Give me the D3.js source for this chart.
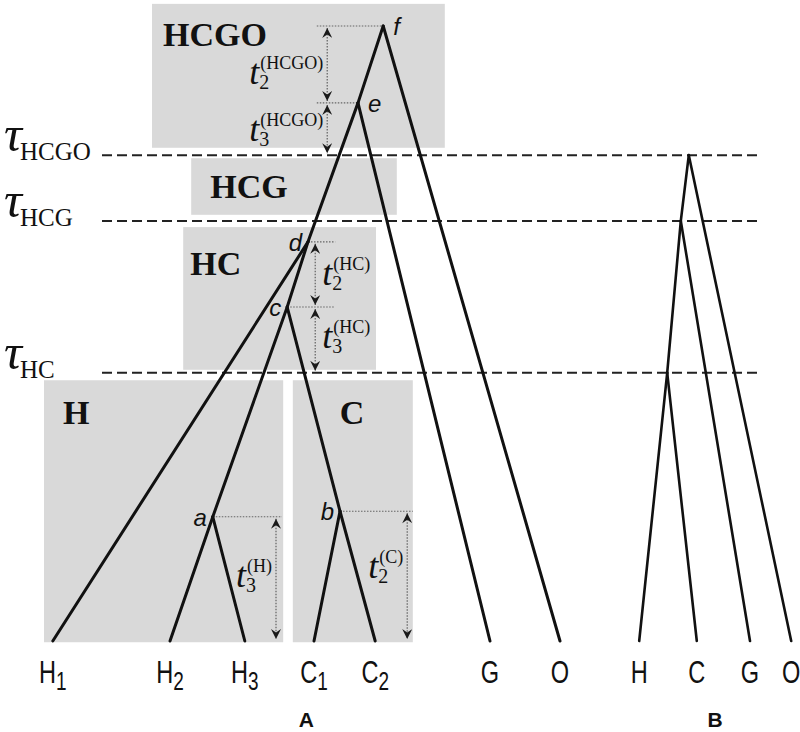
<!DOCTYPE html>
<html>
<head>
<meta charset="utf-8">
<script src="https://cdn.jsdelivr.net/npm/d3@7"></script>
<style>
  body { margin: 0; background: #fff; }
  text { fill: #111; }
</style>
</head>
<body>
<svg id="chart" width="800" height="732"></svg>
<script>
// node ages (leaves = 0, oldest node f = 10) and horizontal position (0-100)
const nodesA = [
  { id: "f",  parent: null, t: 10,   pos: 47.9,  side: "right" },
  { id: "e",  parent: "f",  t: 8.75, pos: 44.75, side: "right" },
  { id: "d",  parent: "e",  t: 6.49, pos: 38.5,  side: "left" },
  { id: "c",  parent: "d",  t: 5.43, pos: 35.9,  side: "left" },
  { id: "a",  parent: "c",  t: 2.02, pos: 26.6,  side: "left" },
  { id: "b",  parent: "c",  t: 2.11, pos: 42.5,  side: "left" }
];
const leavesA = [
  { id: "H1", parent: "d", pos: 6.6,   name: "H", sub: "1" },
  { id: "H2", parent: "a", pos: 21.25, name: "H", sub: "2" },
  { id: "H3", parent: "a", pos: 30.6,  name: "H", sub: "3" },
  { id: "C1", parent: "b", pos: 39.25, name: "C", sub: "1" },
  { id: "C2", parent: "b", pos: 46.9,  name: "C", sub: "2" },
  { id: "G",  parent: "e", pos: 61.25, name: "G", sub: "" },
  { id: "O",  parent: "f", pos: 70,    name: "O", sub: "" }
];
// species tree (panel B)
const nodesB = [
  { id: "HCGO", parent: null,  t: 7.90, pos: 86.1 },
  { id: "HCG",  parent: "HCGO", t: 6.83, pos: 85.1 },
  { id: "HC",   parent: "HCG", t: 4.36, pos: 83.4 }
];
const leavesB = [
  { id: "H", parent: "HC",   pos: 79.9 },
  { id: "C", parent: "HC",   pos: 87.1 },
  { id: "G", parent: "HCG",  pos: 93.75 },
  { id: "O", parent: "HCGO", pos: 98.9 }
];
const taus = [
  { name: "HCGO", t: 7.90 },
  { name: "HCG",  t: 6.83 },
  { name: "HC",   t: 4.36 }
];
// coalescent intervals: from node to node / tau / present
const intervals = [
  { from: "f", to: "e",       sub: "2", sup: "(HCGO)" },
  { from: "e", toTau: "HCGO", sub: "3", sup: "(HCGO)" },
  { from: "d", to: "c",       sub: "2", sup: "(HC)" },
  { from: "c", toTau: "HC",   sub: "3", sup: "(HC)" },
  { from: "a", toT: 0,        sub: "3", sup: "(H)" },
  { from: "b", toT: 0,        sub: "2", sup: "(C)" }
];
// layout of the interval arrows: arrow x, label side, label shift
const intervalLayout = [
  { ax: 40.9, side: "left",  dy: 20 },
  { ax: 40.9, side: "left",  dy: 12 },
  { ax: 39.4, side: "right", dy: 11 },
  { ax: 39.4, side: "right", dy: 8 },
  { ax: 34.5, side: "left",  dy: 8 },
  { ax: 50.9, side: "left",  dy: 2 }
];
// guide lines at nodes: extend from node to position gx
const guides = [
  { node: "f", gx: 39.6 }, { node: "e", gx: 39.6 },
  { node: "d", gx: 41.9 }, { node: "c", gx: 41.9 },
  { node: "a", gx: 35.25 }, { node: "b", gx: 51.6 }
];
// population boxes (pos / age units), label offset in px
const boxes = [
  { label: "HCGO", x0: 19,   x1: 55.6, t0: 10.36, t1: 8.02, dx: 11, dy: 42 },
  { label: "HCG",  x0: 23.9, x1: 49.6, t0: 7.85,  t1: 6.93, dx: 19, dy: 40 },
  { label: "HC",   x0: 22.9, x1: 47,   t0: 6.73,  t1: 4.41, dx: 7,  dy: 48 },
  { label: "H",    x0: 5.5,  x1: 35.4, t0: 4.24,  t1: -0.02, dx: 19, dy: 44 },
  { label: "C",    x0: 36.6, x1: 51.6, t0: 4.24,  t1: -0.02, dx: 47, dy: 44 }
];

const svg = d3.select("#chart");
const x = d3.scaleLinear().domain([0, 100]).range([0, 800]);
const y = d3.scaleLinear().domain([0, 10]).range([641, 26]);

const serif = "'Liberation Serif', 'Times New Roman', serif";
const sans = "'Liberation Sans', Arial, sans-serif";

// arrow head
svg.append("defs").append("marker")
  .attr("id", "arr")
  .attr("viewBox", "0 0 10 10")
  .attr("refX", 10).attr("refY", 5)
  .attr("markerWidth", 11).attr("markerHeight", 10)
  .attr("markerUnits", "userSpaceOnUse")
  .attr("orient", "auto-start-reverse")
  .append("path")
  .attr("d", "M0,0L10,5L0,10L3.5,5Z")
  .attr("fill", "#1a1a1a");

// boxes
const gBox = svg.append("g");
gBox.selectAll("rect").data(boxes).join("rect")
  .attr("x", d => x(d.x0)).attr("y", d => y(d.t0))
  .attr("width", d => x(d.x1) - x(d.x0))
  .attr("height", d => y(d.t1) - y(d.t0))
  .attr("fill", "#d9d9d9");
gBox.selectAll("text").data(boxes).join("text")
  .attr("x", d => x(d.x0) + d.dx).attr("y", d => y(d.t0) + d.dy)
  .attr("font-family", serif).attr("font-weight", "bold")
  .attr("font-size", 34).attr("fill", "#1a1a1a")
  .text(d => d.label);

// tau dashed lines
const gTau = svg.append("g");
gTau.selectAll("line").data(taus).join("line")
  .attr("x1", x(12.75)).attr("x2", x(95.25))
  .attr("y1", d => y(d.t)).attr("y2", d => y(d.t))
  .attr("stroke", "#222").attr("stroke-width", 2)
  .attr("stroke-dasharray", "10,5");
const tauLab = gTau.selectAll("text").data(taus).join("text")
  .attr("x", 4).attr("y", d => y(d.t) + 5)
  .attr("font-family", serif);
tauLab.append("tspan").attr("font-style", "italic").attr("font-size", 50)
  .attr("dy", -9).text("τ");
tauLab.append("tspan").attr("font-size", 25).attr("dy", 9).attr("dx", -2)
  .text(d => d.name);

// guides and interval arrows
const allA = new Map(nodesA.map(d => [d.id, d]));
const tauT = new Map(taus.map(d => [d.name, d.t]));
const gAnn = svg.append("g");
gAnn.selectAll("line.guide").data(guides).join("line")
  .attr("class", "guide")
  .attr("x1", d => x(Math.min(d.gx, allA.get(d.node).pos)))
  .attr("x2", d => x(Math.max(d.gx, allA.get(d.node).pos)))
  .attr("y1", d => y(allA.get(d.node).t)).attr("y2", d => y(allA.get(d.node).t))
  .attr("stroke", "#666").attr("stroke-width", 1.1)
  .attr("stroke-dasharray", "1.5,1.5");

intervals.forEach((iv, i) => {
  const L = intervalLayout[i];
  const t0 = allA.get(iv.from).t;
  const t1 = iv.to ? allA.get(iv.to).t : (iv.toTau ? tauT.get(iv.toTau) : iv.toT);
  const y0 = y(t0), y1 = y(t1);
  gAnn.append("line")
    .attr("x1", x(L.ax)).attr("x2", x(L.ax))
    .attr("y1", y0 + 2).attr("y2", y1 - 2)
    .attr("stroke", "#555").attr("stroke-width", 1.1)
    .attr("stroke-dasharray", "1.5,1.5")
    .attr("marker-start", "url(#arr)").attr("marker-end", "url(#arr)");
  const g = gAnn.append("g");
  const tt = g.append("text").attr("font-family", serif).attr("font-style", "italic")
    .attr("font-size", 36).attr("x", 0).attr("y", 0).text("t");
  const tw = tt.node().getComputedTextLength();
  g.append("text").attr("font-family", serif).attr("font-size", 18)
    .attr("x", tw + 1).attr("y", -15).text(iv.sup);
  g.append("text").attr("font-family", serif).attr("font-size", 20)
    .attr("x", tw).attr("y", 5).text(iv.sub);
  const bw = g.node().getBBox().width;
  const mid = (y0 + y1) / 2 + L.dy;
  const gx = L.side === "left" ? x(L.ax) - bw - 4 : x(L.ax) + 7;
  g.attr("transform", `translate(${gx},${mid})`);
});

// tree A edges
const posA = new Map([...nodesA, ...leavesA].map(d => [d.id, d]));
const edgesA = [...nodesA.filter(d => d.parent), ...leavesA];
const gTree = svg.append("g");
gTree.selectAll("line").data(edgesA).join("line")
  .attr("x1", d => x(posA.get(d.parent).pos)).attr("y1", d => y(posA.get(d.parent).t))
  .attr("x2", d => x(d.pos)).attr("y2", d => y(d.t || 0))
  .attr("stroke", "#111").attr("stroke-width", 3)
  .attr("stroke-linecap", "round");

gTree.selectAll("text.node").data(nodesA).join("text")
  .attr("class", "node")
  .attr("x", d => d.side === "right" ? x(d.pos) + 10 : x(d.pos) - 6)
  .attr("y", d => y(d.t) + 9)
  .attr("text-anchor", d => d.side === "right" ? "start" : "end")
  .attr("font-family", sans).attr("font-style", "italic").attr("font-size", 24)
  .attr("fill", "#333")
  .text(d => d.id);

// tree B edges
const innerB = new Map(nodesB.map(d => [d.id, d]));
const edgesB = [...nodesB.filter(d => d.parent), ...leavesB];
svg.append("g").selectAll("line").data(edgesB).join("line")
  .attr("x1", d => x(innerB.get(d.parent).pos)).attr("y1", d => y(innerB.get(d.parent).t))
  .attr("x2", d => x(d.pos)).attr("y2", d => y(d.t || 0))
  .attr("stroke", "#111").attr("stroke-width", 2.6)
  .attr("stroke-linecap", "round");

// leaf labels
const leafLabels = [...leavesA, ...leavesB.map(d => ({ pos: d.pos, name: d.id, sub: "" }))];
const lab = svg.append("g").selectAll("text").data(leafLabels).join("text")
  .attr("transform", d => `translate(${x(d.pos)},683) scale(0.76,1)`)
  .attr("text-anchor", "middle")
  .attr("font-family", sans).attr("font-size", 31);
lab.append("tspan").text(d => d.name);
lab.append("tspan").attr("font-size", 25).attr("dy", 7).text(d => d.sub);

// panel letters
svg.append("g").selectAll("text").data([{ l: "A", pos: 38.3 }, { l: "B", pos: 89.4 }]).join("text")
  .attr("x", d => x(d.pos)).attr("y", 727)
  .attr("text-anchor", "middle")
  .attr("font-family", sans).attr("font-weight", "bold").attr("font-size", 21)
  .text(d => d.l);
</script>
</body>
</html>
